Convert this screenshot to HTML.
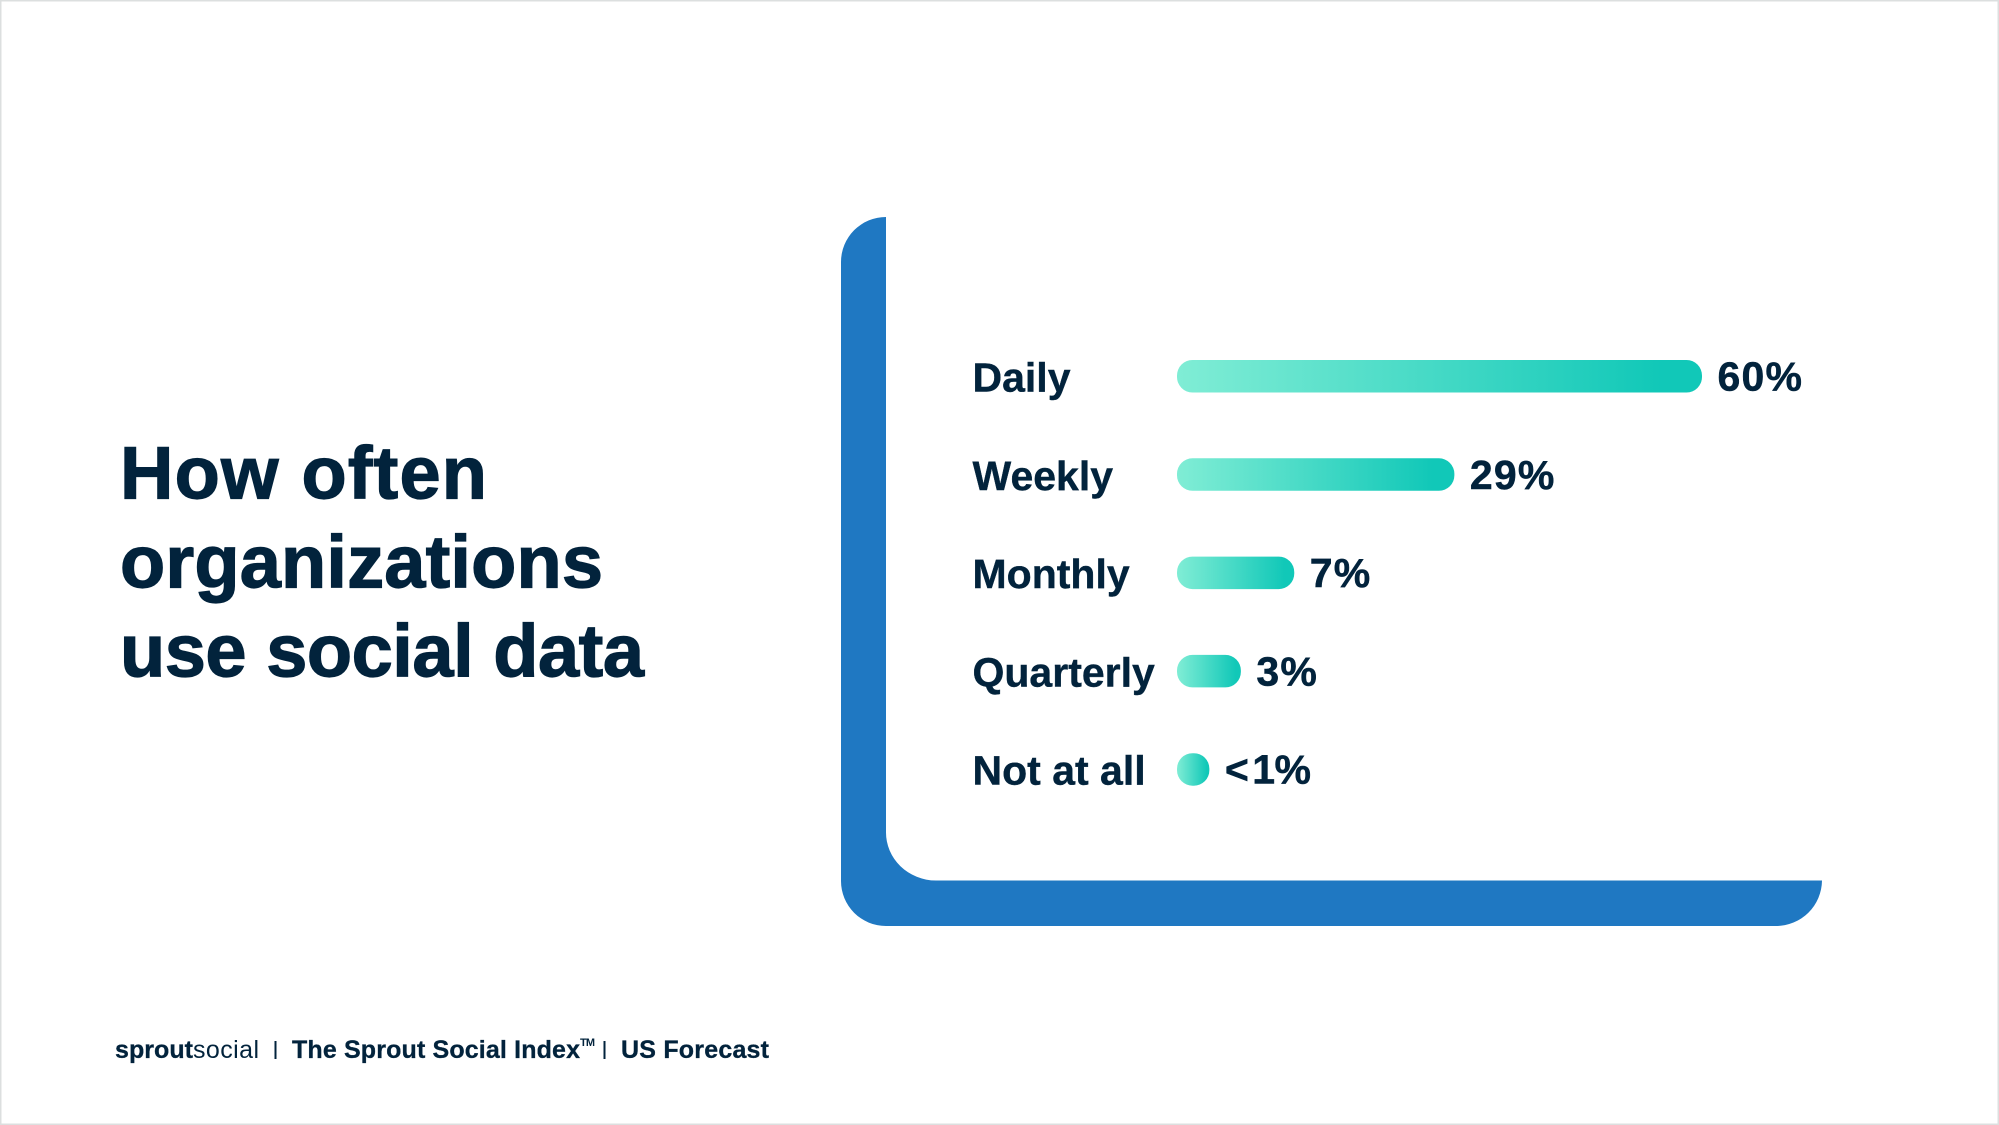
<!DOCTYPE html>
<html lang="en">
<head>
<meta charset="utf-8">
<title>How often organizations use social data</title>
<style>
  html, body { margin: 0; padding: 0; background: #fff; }
  body { width: 1999px; height: 1125px; overflow: hidden; }
  svg { display: block; }
  text { font-family: "Liberation Sans", sans-serif; fill: #02233c; }
  .title { font-size: 74px; font-weight: 700; stroke: #02233c; stroke-width: 1.2px; }
  .cat { font-size: 41px; font-weight: 700; stroke: #02233c; stroke-width: 0.4px; }
  .val { font-size: 41px; font-weight: 700; letter-spacing: 1.2px; stroke: #02233c; stroke-width: 0.5px; }
  .val.below { letter-spacing: -0.5px; word-spacing: -7px; }
  .foot { font-size: 25px; font-weight: 700; stroke: #02233c; stroke-width: 0.3px; }
</style>
</head>
<body>
<svg id="slide" xmlns="http://www.w3.org/2000/svg" width="1999" height="1125" viewBox="0 0 1999 1125">
  <defs>
    <linearGradient id="barGradient" x1="0" y1="0" x2="1" y2="0">
      <stop offset="0" stop-color="#80edd5"/>
      <stop offset="0.92" stop-color="#11c8b8"/>
      <stop offset="1" stop-color="#11c8b8"/>
    </linearGradient>
  </defs>
  <rect x="0.5" y="0.5" width="1998" height="1124" fill="#fff" stroke="#dcdfdf" stroke-width="2"/>

  <g>
    <text class="title" x="120" y="498.5" textLength="367" lengthAdjust="spacing">How often</text>
    <text class="title" x="120" y="587.5" textLength="483" lengthAdjust="spacing">organizations</text>
    <text class="title" x="120" y="676.5" textLength="524" lengthAdjust="spacing">use social data</text>
  </g>

  <path d="M886 217 A45 45 0 0 0 841 262 V881 A45 45 0 0 0 886 926 H1776 A46 46 0 0 0 1822 880.5 H936 A50 48 0 0 1 886 832 Z" fill="#1f78c2"/>

  <g id="rows"></g>

  <g>
    <text class="foot" x="115" y="1058" textLength="78" lengthAdjust="spacing">sprout</text>
    <text x="193" y="1058" font-size="25" textLength="66" lengthAdjust="spacing">social</text>
    <rect x="274.5" y="1041" width="2" height="18" fill="#02233c"/>
    <text class="foot" x="292" y="1058" textLength="288" lengthAdjust="spacing">The Sprout Social Index</text>
    <text x="580" y="1046" font-size="11" font-weight="700" textLength="15" lengthAdjust="spacing">TM</text>
    <rect x="603.5" y="1041" width="2" height="18" fill="#02233c"/>
    <text class="foot" x="621" y="1058" textLength="148" lengthAdjust="spacing">US Forecast</text>
  </g>
</svg>
<script>
// Chart data
const categories = ['Daily', 'Weekly', 'Monthly', 'Quarterly', 'Not at all'];
// The source bars are not drawn in proportion to their printed percentages,
// so the series holds each bar's length as read on a linear axis where the longest bar = 60.
const barValues = [60, 31.7, 13.4, 7.3, 3.7];
const printedLabels = ['60%', '29%', '7%', '3%', '< 1%'];

// Axis functions
const AXIS_ZERO = 1177;
const AXIS_PX_PER_UNIT = 525 / 60;
const ROW_TOP = 360;
const ROW_STEP = 98.3;
const BAR_HEIGHT = 32.5;
const x = v => AXIS_ZERO + v * AXIS_PX_PER_UNIT;
const y = i => ROW_TOP + i * ROW_STEP;

const NS = 'http://www.w3.org/2000/svg';
const rows = document.getElementById('rows');

categories.forEach((category, i) => {
  const slug = category.toLowerCase().replace(/\s+/g, '-');
  const end = x(barValues[i]);

  const label = document.createElementNS(NS, 'text');
  label.setAttribute('class', 'cat');
  label.setAttribute('x', 972.5);
  label.setAttribute('y', y(i) + 31.5);
  
  
  label.textContent = category;
  rows.appendChild(label);

  const bar = document.createElementNS(NS, 'rect');
  bar.setAttribute('x', x(0));
  bar.setAttribute('y', y(i));
  bar.setAttribute('width', end - x(0));
  bar.setAttribute('height', BAR_HEIGHT);
  bar.setAttribute('rx', 15.5);
  bar.setAttribute('ry', 15.5);
  bar.setAttribute('fill', 'url(#barGradient)');
  
  
  rows.appendChild(bar);

  const value = document.createElementNS(NS, 'text');
  value.setAttribute('class', printedLabels[i].startsWith('<') ? 'val below' : 'val');
  value.setAttribute('x', end + 15.5);
  value.setAttribute('y', y(i) + 30.5);
  
  
  value.textContent = printedLabels[i];
  rows.appendChild(value);
});
</script>
</body>
</html>
